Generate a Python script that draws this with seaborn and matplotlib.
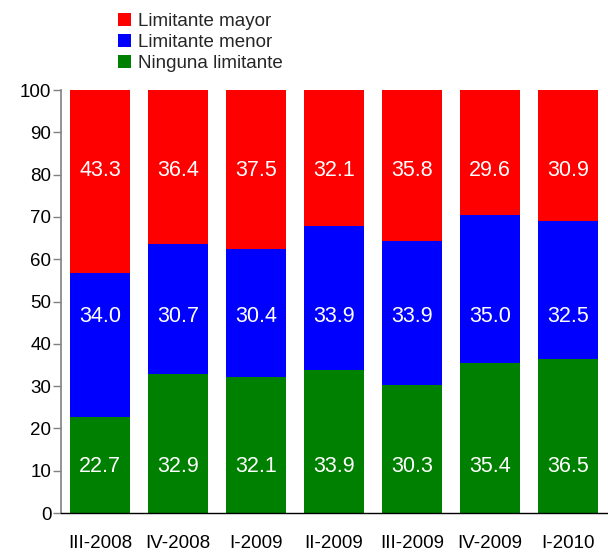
import matplotlib
matplotlib.use("Agg")
import matplotlib.pyplot as plt
import seaborn as sns
import numpy as np
import pandas as pd
from matplotlib.patches import Patch

periods = ["III-2008", "IV-2008", "I-2009", "II-2009", "III-2009", "IV-2009", "I-2010"]
ninguna = [22.7, 32.9, 32.1, 33.9, 30.3, 35.4, 36.5]
menor = [34.0, 30.7, 30.4, 33.9, 33.9, 35.0, 32.5]
mayor = [43.3, 36.4, 37.5, 32.1, 35.8, 29.6, 30.9]

series_names = ["Limitante mayor", "Limitante menor", "Ninguna limitante"]
colors = {"Limitante mayor": "#FF0000", "Limitante menor": "#0000FF", "Ninguna limitante": "#008000"}

sns.set_style("white")
plt.rcParams['font.family'] = ['Liberation Sans', 'DejaVu Sans']

df = pd.DataFrame({"period": periods, "ninguna": ninguna, "menor": menor, "mayor": mayor})
df["c1"] = df["ninguna"]
df["c2"] = df["ninguna"] + df["menor"]
df["c3"] = df["c2"] + df["mayor"]

fig = plt.figure(figsize=(6.08, 5.52), dpi=100)
ax = fig.add_axes([61/608, 1 - 513/552, 546/608, (513 - 90)/552])

bw = 0.77
sns.barplot(data=df, x="period", y="c3", color=colors["Limitante mayor"], width=bw, ax=ax, saturation=1)
sns.barplot(data=df, x="period", y="c2", color=colors["Limitante menor"], width=bw, ax=ax, saturation=1)
sns.barplot(data=df, x="period", y="c1", color=colors["Ninguna limitante"], width=bw, ax=ax, saturation=1)

for p in ax.patches:
    p.set_edgecolor("none")

label_y = {"mayor": 81.0, "menor": 46.5, "ninguna": 11.0}
for i in range(len(periods)):
    for key, vals in (("mayor", mayor), ("menor", menor), ("ninguna", ninguna)):
        ax.text(i, label_y[key], f"{vals[i]:.1f}", ha="center", va="center",
                color="white", fontsize=15.5)

ax.set_xlim(-0.5, len(periods) - 0.5)
ax.set_ylim(0, 100)
ax.set_yticks(np.arange(0, 101, 10))
ax.set_xlabel("")
ax.set_ylabel("")

ax.set_xticks(np.arange(-0.5, len(periods), 1.0), minor=True)
ax.tick_params(axis="x", which="major", length=0, pad=16, labelsize=13.5, colors="black")
ax.tick_params(axis="x", which="minor", length=6, width=1, color="#808080", direction="out")
ax.tick_params(axis="y", which="major", length=6, width=1, color="#808080", labelsize=13.5,
               labelcolor="black", direction="out", pad=1, left=True)

for s in ["top", "right"]:
    ax.spines[s].set_visible(False)
ax.spines["left"].set_color("#808080")
ax.spines["left"].set_linewidth(1.2)
ax.spines["bottom"].set_color("black")
ax.spines["bottom"].set_linewidth(1.0)

handles = [Patch(facecolor=colors[n], edgecolor="none", label=n) for n in series_names]
fig.legend(handles=handles, loc="upper left", bbox_to_anchor=(110/608, 1 - 5/552),
           frameon=False, fontsize=13.5, handlelength=0.7, handleheight=0.7,
           handletextpad=0.4, labelspacing=0.22, borderaxespad=0)

fig.savefig("out.png", dpi=100)
